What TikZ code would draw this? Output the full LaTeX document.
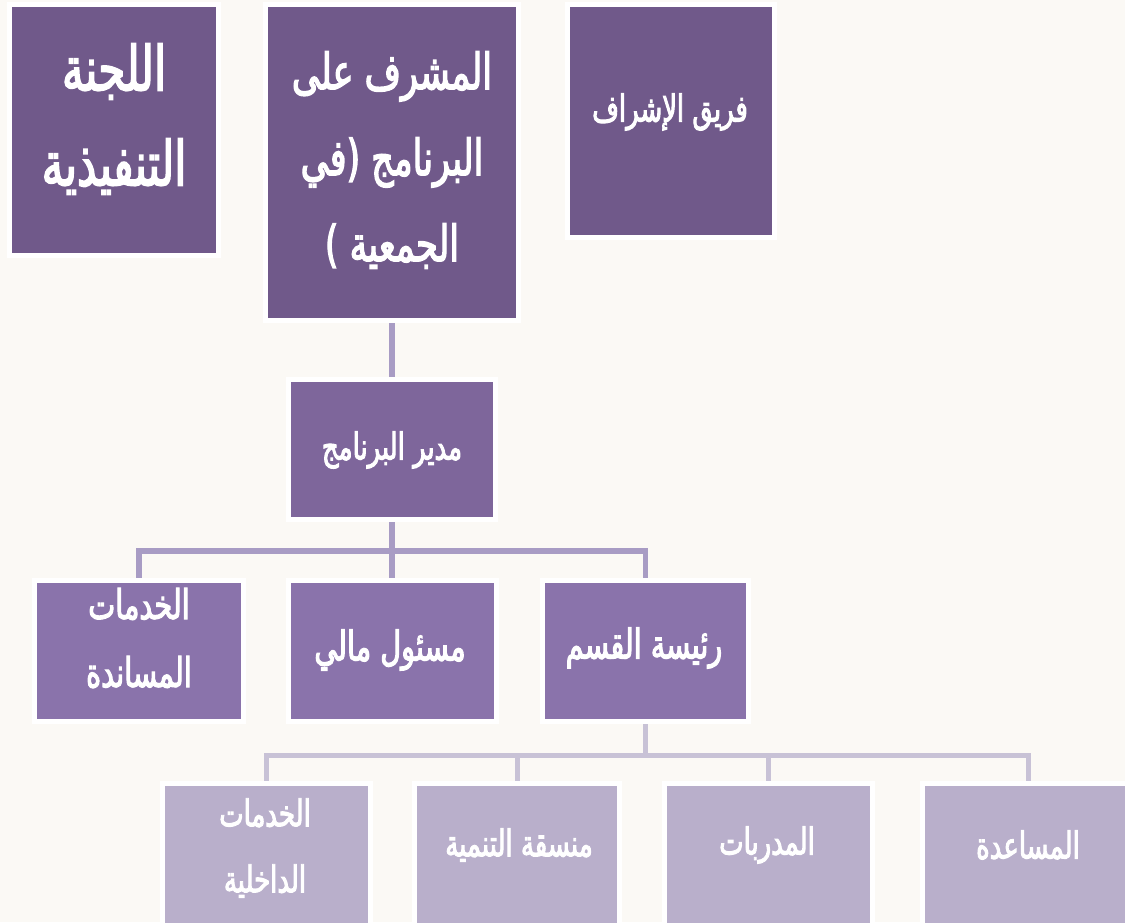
\documentclass[tikz,border=0pt]{standalone}
\usepackage{fontspec}
\TeXXeTstate=1
\newfontfamily\arabicfont[Script=Arabic,FakeStretch=0.7,FakeBold=2.5]{DejaVu Sans}
\usetikzlibrary{shadows}
\newcommand{\artxt}[1]{\beginR #1\endR}
\definecolor{bgcol}{RGB}{251,249,245}
\definecolor{topcol}{RGB}{112,89,138}
\definecolor{mgrcol}{RGB}{126,102,155}
\definecolor{midcol}{RGB}{138,115,171}
\definecolor{lowcol}{RGB}{185,175,203}
\definecolor{conncol}{RGB}{168,156,196}
\definecolor{conncolb}{RGB}{200,194,214}
\pgfdeclarelayer{bglayer}
\pgfdeclarelayer{connlayer}
\pgfsetlayers{bglayer,connlayer,main}
\tikzset{
  orgbox/.style={draw=white, line width=5pt, inner sep=0pt,
    drop shadow={opacity=0.25, shadow xshift=1pt, shadow yshift=-2pt}},
  labtxt/.style={text=white, align=center, inner sep=0pt},
  atxt/.style={labtxt, font=\arabicfont\fontsize{62}{95}\selectfont},
  btxt/.style={labtxt, font=\arabicfont\fontsize{50}{86}\selectfont},
  ctxt/.style={labtxt, font=\arabicfont\fontsize{37}{60}\selectfont},
  rowtxt/.style={labtxt, font=\arabicfont\fontsize{41}{68}\selectfont},
  lowtxt/.style={labtxt, font=\arabicfont\fontsize{37}{66}\selectfont},
  conn/.style={draw=conncol, line width=5.5pt},
  connb/.style={draw=conncolb, line width=5pt}
}
\begin{document}
\begin{tikzpicture}[x=1pt,y=-1pt]
\begin{pgfonlayer}{bglayer}
\fill[bgcol] (0,0) rectangle (1125,922);
\end{pgfonlayer}
\useasboundingbox (0,0) rectangle (1125,922);
\clip (0,0) rectangle (1125,922);
% top row
\node[orgbox, fill=topcol, minimum width=209pt, minimum height=251pt] (exec) at (114,130) {};
\node[atxt] (exect) at (114,119) {\artxt{اللجنة}\\\artxt{التنفيذية}};
\node[orgbox, fill=topcol, minimum width=253pt, minimum height=316pt] (superv) at (392,162.5) {};
\node[btxt] (supervt) at (392,160) {\artxt{المشرف على}\\\artxt{البرنامج (في}\\\artxt{الجمعية )}};
\node[orgbox, fill=topcol, minimum width=207pt, minimum height=233pt] (team) at (671,121) {};
\node[ctxt] (teamt) at (670,112) {\artxt{فريق الإشراف}};
% manager
\node[orgbox, fill=mgrcol, minimum width=207pt, minimum height=140pt] (mgr) at (392,449.5) {};
\node[ctxt] (mgrt) at (392,450) {\artxt{مدير البرنامج}};
% second row
\node[orgbox, fill=midcol, minimum width=209pt, minimum height=141pt] (support) at (139,651) {};
\node[rowtxt] (supportt) at (139,638) {\artxt{الخدمات}\\\artxt{المساندة}};
\node[orgbox, fill=midcol, minimum width=208pt, minimum height=141pt] (finance) at (392,651) {};
\node[rowtxt] (financet) at (390,650) {\artxt{مسئول مالي}};
\node[orgbox, fill=midcol, minimum width=206pt, minimum height=141pt] (head) at (645.5,651) {};
\node[rowtxt] (headt) at (644,648) {\artxt{رئيسة القسم}};
% third row
\node[orgbox, fill=lowcol, minimum width=208pt, minimum height=205pt] (internal) at (266.5,886) {};
\node[lowtxt] (internalt) at (265,848) {\artxt{الخدمات}\\\artxt{الداخلية}};
\node[orgbox, fill=lowcol, minimum width=205pt, minimum height=205pt] (coord) at (517,886) {};
\node[lowtxt] (coordt) at (519,845) {\artxt{منسقة التنمية}};
\node[orgbox, fill=lowcol, minimum width=208pt, minimum height=205pt] (trainers) at (768.5,886) {};
\node[lowtxt] (trainerst) at (767,845) {\artxt{المدربات}};
\node[orgbox, fill=lowcol, minimum width=211pt, minimum height=205pt] (assist) at (1028,886) {};
\node[lowtxt] (assistt) at (1028,845) {\artxt{المساعدة}};
% connectors
\coordinate (busa) at (392,551);
\coordinate (busb) at (645.5,755);
\begin{pgfonlayer}{connlayer}
\draw[conn] (superv.south) -- (mgr.north);
\draw[conn] (mgr.south) -- (finance.north);
\draw[conn] (support.north) |- (busa) -| (head.north);
\draw[connb] (head.south) -- (busb);
\draw[connb] (internal.north) |- (busb) -| (assist.north);
\draw[connb] (coord.north) -- (coord.north |- busb);
\draw[connb] (trainers.north) -- (trainers.north |- busb);
\end{pgfonlayer}
\end{tikzpicture}
\end{document}
